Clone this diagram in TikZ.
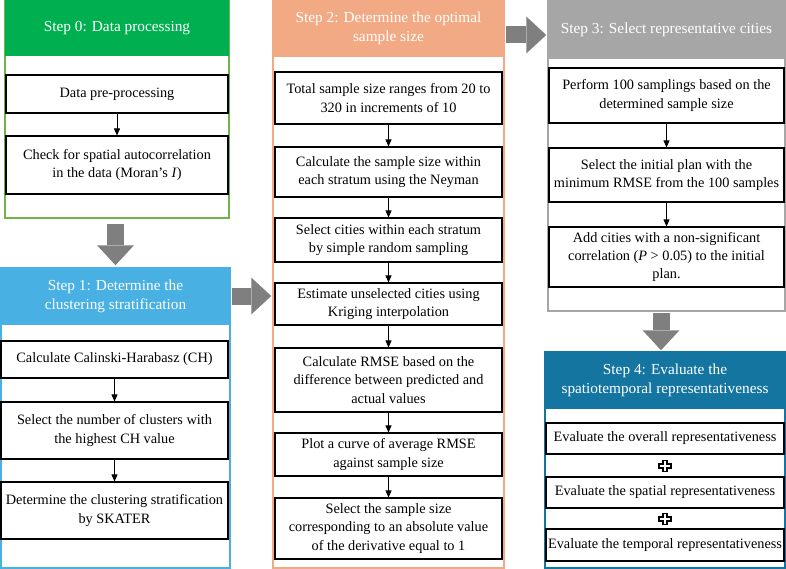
\documentclass[tikz,border=0pt]{standalone}
\usepackage{fontspec}
\setmainfont{Liberation Serif}
\usetikzlibrary{arrows.meta}
\definecolor{headgreen}{RGB}{0,176,80}
\definecolor{linegreen}{RGB}{112,180,71}
\definecolor{headblue}{RGB}{72,176,226}
\definecolor{headorange}{RGB}{242,170,132}
\definecolor{headgray}{RGB}{166,166,166}
\definecolor{headteal}{RGB}{20,117,160}
\definecolor{arrowgray}{RGB}{127,127,127}
\newcommand{\bodyfont}{\fontsize{14.3}{18.3}\selectfont}
\newcommand{\headfont}{\fontsize{15.3}{19}\selectfont}
\begin{document}
\begin{tikzpicture}[x=1pt,y=-1pt,
    panel/.style={draw=#1,line width=1.5pt,inner sep=0pt},
    header/.style={fill=#1,text=white,font=\headfont,align=center,inner sep=0pt,anchor=north},
    stepbox/.style={draw=black,line width=1.1pt,fill=white,font=\bodyfont,align=center,inner sep=0pt},
    flow/.style={-{Triangle[length=7pt,width=6pt]},line width=0.8pt},
    bigflow/.style={draw=arrowgray,line width=17pt,-{Triangle[length=20pt,width=37pt,line width=0pt]}}]
  \useasboundingbox (0,0) rectangle (786,569);

  \node[panel=linegreen,minimum width=224pt,minimum height=218pt] (p0) at (117,109) {};
  \node[header=headgreen,minimum width=224pt,minimum height=57pt] (h0) at (p0.north) {Step 0: Data processing};
  \foreach \i/\ya/\yb/\txt in {1/75/113/{Data pre-processing},
      2/136/194/{Check for spatial autocorrelation\\in the data (Moran's \textit{I})}}{
    \node[stepbox,minimum width=222pt,minimum height={(\yb-\ya)*1pt}] (b0-\i) at (117,{(\ya+\yb)/2}) {\txt};
  }
  \draw[flow] (b0-1) -- (b0-2);

  \node[panel=headblue,minimum width=229pt,minimum height=300pt] (p1) at (115.5,418) {};
  \node[header=headblue,minimum width=229pt,minimum height=58pt] (h1) at (p1.north) {Step 1: Determine the\\clustering stratification};
  \foreach \i/\ya/\yb/\txt in {1/341/378/{Calculate Calinski-Harabasz (CH)},
      2/402/459/{Select the number of clusters with\\the highest CH value},
      3/482/539/{Determine the clustering stratification\\by SKATER}}{
    \node[stepbox,minimum width=227pt,minimum height={(\yb-\ya)*1pt}] (b1-\i) at (114.5,{(\ya+\yb)/2}) {\txt};
  }
  \foreach \i [remember=\i as \prev (initially 1)] in {2,3}
    \draw[flow] (b1-\prev) -- (b1-\i);

  \node[panel=headorange,minimum width=231pt,minimum height=568pt] (p2) at (388.5,284) {};
  \node[header=headorange,minimum width=231pt,minimum height=58pt] (h2) at (p2.north) {Step 2: Determine the optimal\\sample size};
  \foreach \i/\ya/\yb/\txt in {1/72/124/{Total sample size ranges from 20 to\\320 in increments of 10},
      2/147/197/{Calculate the sample size within\\each stratum using the Neyman},
      3/218/262/{Select cities within each stratum\\by simple random sampling},
      4/283/325/{Estimate unselected cities using\\Kriging interpolation},
      5/348/412/{Calculate RMSE based on the\\difference between predicted and\\actual values},
      6/433/476/{Plot a curve of average RMSE\\against sample size},
      7/498/559/{Select the sample size\\corresponding to an absolute value\\of the derivative equal to 1}}{
    \node[stepbox,minimum width=227pt,minimum height={(\yb-\ya)*1pt}] (b2-\i) at (388.5,{(\ya+\yb)/2}) {\txt};
  }
  \foreach \i [remember=\i as \prev (initially 1)] in {2,...,7}
    \draw[flow] (b2-\prev) -- (b2-\i);

  \node[panel=headgray,minimum width=237pt,minimum height=311pt] (p3) at (666.5,155.5) {};
  \node[header=headgray,minimum width=237pt,minimum height=60pt] (h3) at (p3.north) {Step 3: Select representative cities};
  \foreach \i/\ya/\yb/\txt in {1/68/123/{Perform 100 samplings based on the\\determined sample size},
      2/148/202/{Select the initial plan with the\\minimum RMSE from the 100 samples},
      3/227/287/{Add cities with a non-significant\\correlation (\textit{P} > 0.05) to the initial\\plan.}}{
    \node[stepbox,minimum width=235pt,minimum height={(\yb-\ya)*1pt}] (b3-\i) at (666.5,{(\ya+\yb)/2}) {\txt};
  }
  \foreach \i [remember=\i as \prev (initially 1)] in {2,3}
    \draw[flow] (b3-\prev) -- (b3-\i);

  \node[panel=headteal,minimum width=240pt,minimum height=216pt] (p4) at (665,460) {};
  \node[header=headteal,minimum width=240pt,minimum height=58pt] (h4) at (p4.north) {Step 4: Evaluate the\\spatiotemporal representativeness};
  \foreach \i/\ya/\yb/\txt in {1/423/454/{Evaluate the overall representativeness},
      2/477/508/{Evaluate the spatial representativeness},
      3/529/561/{Evaluate the temporal representativeness}}{
    \node[stepbox,minimum width=238pt,minimum height={(\yb-\ya)*1pt}] (b4-\i) at (665,{(\ya+\yb)/2}) {\txt};
  }
  \foreach \y in {466,519}
    \draw[fill=white,line width=1.1pt,shift={(665,\y)}]
      (-2,-5.5) -- (2,-5.5) -- (2,-2) -- (6,-2) -- (6,2) -- (2,2) -- (2,5.5)
      -- (-2,5.5) -- (-2,2) -- (-6,2) -- (-6,-2) -- (-2,-2) -- cycle;

  \coordinate (a12) at (0,296);
  \coordinate (a23) at (0,35);
  \coordinate (a34) at (661,0);
  \draw[bigflow,shorten <=5pt,shorten >=2pt] (p1.north |- p0.south) -- (p1.north);
  \draw[bigflow,shorten <=1pt,shorten >=1pt] (p1.east |- a12) -- (p2.west |- a12);
  \draw[bigflow,shorten <=1pt,shorten >=1pt] (p2.east |- a23) -- (p3.west |- a23);
  \draw[bigflow,shorten <=1pt,shorten >=1pt] (a34 |- p3.south) -- (a34 |- p4.north);
\end{tikzpicture}
\end{document}
